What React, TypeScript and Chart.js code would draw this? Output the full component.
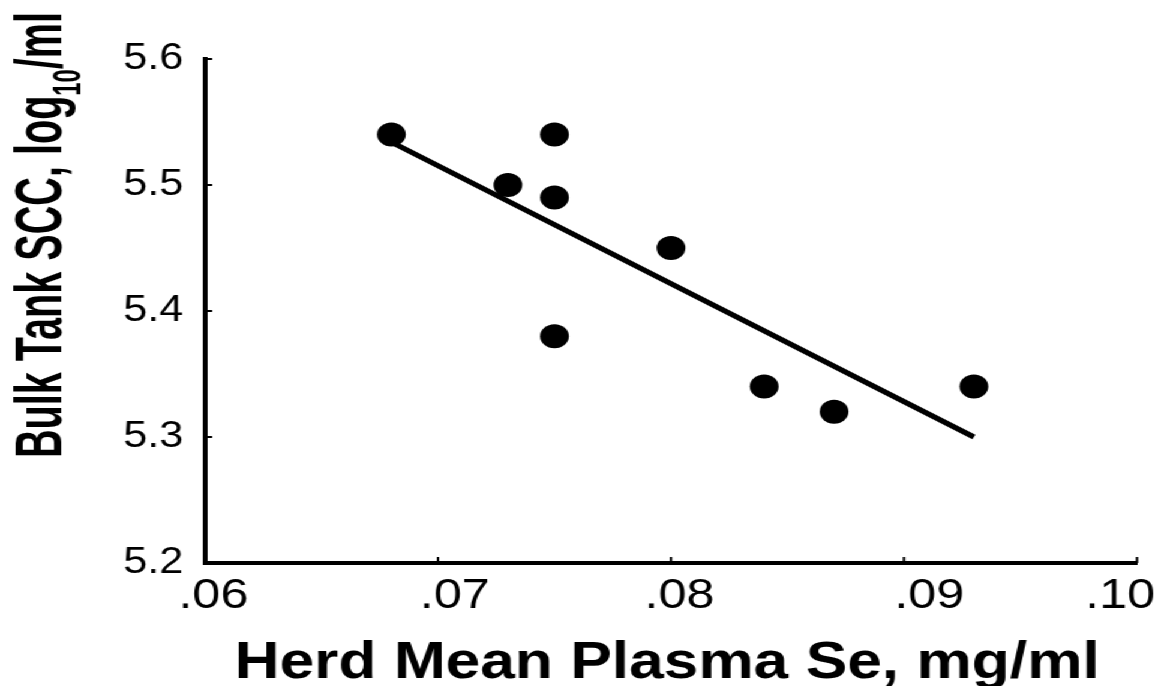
import React, { useEffect, useRef } from "react";
import { Chart, registerables } from "chart.js";

Chart.register(...registerables);

// ---- Data ----
const SE_X = [0.068, 0.073, 0.075, 0.075, 0.080, 0.075, 0.084, 0.087, 0.093];
const SCC_Y = [5.54, 5.50, 5.54, 5.49, 5.45, 5.38, 5.34, 5.32, 5.34];
const FIT_X = [0.068, 0.093];
const FIT_Y = [5.534, 5.300];
const X_TICKS = [0.06, 0.07, 0.08, 0.09, 0.10];
const X_TICK_LABELS = [".06", ".07", ".08", ".09", ".10"];
const Y_TICKS = [5.2, 5.3, 5.4, 5.5, 5.6];
const Y_TICK_LABELS = ["5.2", "5.3", "5.4", "5.5", "5.6"];
const X_TITLE = "Herd Mean Plasma Se, mg/ml";
const Y_TITLE_PARTS = ["Bulk Tank SCC, log", "10", "/ml"];

// ---- Layout (internal canvas coords, canvas is stretched horizontally) ----
const STRETCH = 1.2;
const CW = 970;
const CH = 686;
const FONT = '"Liberation Sans", Arial, Helvetica, sans-serif';
// horizontal nudges of the x tick labels (internal px), as placed in the original
const X_LABEL_NUDGE = [7, 14, 7, 21, -14];

const titlePlugin = {
  id: "customTitles",
  afterDraw(chart: any) {
    const ctx = chart.ctx as CanvasRenderingContext2D;
    const xs = chart.scales.x;
    const ys = chart.scales.y;
    const area = chart.chartArea;

    // X tick labels
    ctx.save();
    ctx.fillStyle = "#000";
    ctx.font = `42px ${FONT}`;
    ctx.textAlign = "center";
    ctx.textBaseline = "alphabetic";
    X_TICKS.forEach((v, i) => {
      const px = xs.getPixelForValue(v) + X_LABEL_NUDGE[i];
      ctx.fillText(X_TICK_LABELS[i], px, area.bottom + 45);
    });
    ctx.restore();

    // X title
    ctx.save();
    ctx.fillStyle = "#000";
    ctx.font = `bold 52px ${FONT}`;
    const w = ctx.measureText(X_TITLE).width;
    ctx.translate(556, 678);
    ctx.scale(721 / w, 1);
    ctx.textAlign = "center";
    ctx.textBaseline = "alphabetic";
    ctx.fillText(X_TITLE, 0, 0);
    ctx.restore();

    // Y title (rotated, with subscript)
    ctx.save();
    ctx.fillStyle = "#000";
    ctx.textAlign = "left";
    ctx.textBaseline = "alphabetic";
    const big = `bold 55px ${FONT}`;
    const small = `bold 33px ${FONT}`;
    ctx.font = big;
    const w1 = ctx.measureText(Y_TITLE_PARTS[0]).width;
    const w3 = ctx.measureText(Y_TITLE_PARTS[2]).width;
    ctx.font = small;
    const w2 = ctx.measureText(Y_TITLE_PARTS[1]).width;
    const total = w1 + w2 + w3;
    ctx.translate(51, 235);
    ctx.rotate(-Math.PI / 2);
    ctx.scale(446 / total, 1);
    let x = -total / 2;
    ctx.font = big;
    ctx.fillText(Y_TITLE_PARTS[0], x, 0);
    x += w1;
    ctx.font = small;
    ctx.fillText(Y_TITLE_PARTS[1], x, 16);
    x += w2;
    ctx.font = big;
    ctx.fillText(Y_TITLE_PARTS[2], x, 0);
    ctx.restore();

    // Inward tick marks
    ctx.save();
    ctx.strokeStyle = "#000";
    ctx.lineWidth = 2;
    ctx.beginPath();
    X_TICKS.forEach((v) => {
      const px = xs.getPixelForValue(v);
      ctx.moveTo(px, area.bottom);
      ctx.lineTo(px, area.bottom - 6);
    });
    Y_TICKS.forEach((v) => {
      const py = ys.getPixelForValue(v);
      ctx.moveTo(area.left, py);
      ctx.lineTo(area.left + 6, py);
    });
    ctx.stroke();
    ctx.restore();
  },
};

export default function App() {
  const canvasRef = useRef<HTMLCanvasElement | null>(null);

  useEffect(() => {
    if (!canvasRef.current) return;
    const points = SE_X.map((x, i) => ({ x, y: SCC_Y[i] }));
    const fit = FIT_X.map((x, i) => ({ x, y: FIT_Y[i] }));
    const chart = new Chart(canvasRef.current, {
      type: "scatter",
      data: {
        datasets: [
          {
            type: "scatter",
            label: "Herds",
            data: points,
            backgroundColor: "#000",
            borderColor: "#000",
            borderWidth: 0,
            pointRadius: 12,
            pointHoverRadius: 12,
          },
          {
            type: "line",
            label: "Regression",
            data: fit,
            borderColor: "#000",
            borderWidth: 5,
            pointRadius: 0,
            fill: false,
            showLine: true,
          } as any,
        ],
      },
      options: {
        animation: false,
        responsive: true,
        maintainAspectRatio: false,
        events: [],
        layout: { padding: { top: 59, right: CW - 1137 / STRETCH, left: 0, bottom: 0 } },
        plugins: {
          legend: { display: false },
          tooltip: { enabled: false },
          title: { display: false },
        },
        scales: {
          x: {
            type: "linear",
            min: 0.06,
            max: 0.1,
            grid: { display: false, drawTicks: false },
            border: { display: true, color: "#000", width: 4 },
            afterBuildTicks: (scale: any) => {
              scale.ticks = X_TICKS.map((v) => ({ value: v }));
            },
            afterFit: (scale: any) => {
              scale.height = CH - 563;
              scale.paddingRight = 0;
              scale.paddingLeft = 0;
            },
            ticks: { display: false },
          },
          y: {
            type: "linear",
            min: 5.2,
            max: 5.6,
            grid: { display: false, drawTicks: false },
            border: { display: true, color: "#000", width: 4 },
            afterBuildTicks: (scale: any) => {
              scale.ticks = Y_TICKS.map((v) => ({ value: v }));
            },
            afterFit: (scale: any) => {
              scale.width = 205 / STRETCH;
            },
            ticks: {
              autoSkip: false,
              padding: 18,
              color: "#000",
              font: { family: FONT, size: 36 },
              callback: (_v: any, i: number) => Y_TICK_LABELS[i],
            },
          },
        },
      },
      plugins: [titlePlugin],
    } as any);
    return () => chart.destroy();
  }, []);

  return (
    <div
      style={{
        position: "absolute",
        left: 0,
        top: 0,
        width: CW,
        height: CH,
        transform: `scaleX(${STRETCH})`,
        transformOrigin: "0 0",
        background: "#fff",
      }}
    >
      <canvas ref={canvasRef} />
    </div>
  );
}
